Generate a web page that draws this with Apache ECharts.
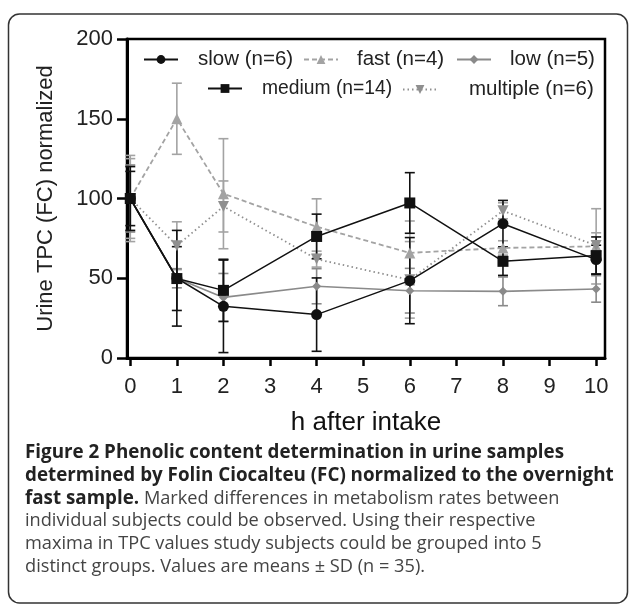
<!DOCTYPE html>
<html>
<head>
<meta charset="utf-8">
<script src="https://cdn.jsdelivr.net/npm/echarts@6/dist/echarts.min.js"></script>
<style>
  html, body { margin: 0; padding: 0; background: #fff; }
  #chart { width: 629px; height: 605px; }
</style>
</head>
<body>
<div id="chart"></div>
<script>
// hours after intake
var hours = [0, 1, 2, 4, 6, 8, 10];
var xTicks = [0, 1, 2, 3, 4, 5, 6, 7, 8, 9, 10];

// group means (TPC normalized to overnight fast sample)
var slow = [100, 50, 32.4, 27.2, 48.5, 84.2, 61.7];
var slowSd = [20, 30, 29, 23, 27, 14.6, 9];
var medium = [100, 49.8, 42.4, 76.2, 97.2, 60.6, 64.2];
var mediumSd = [17, 20, 19.5, 14, 19, 8.8, 11.7];
var fast = [100, 150, 103, 82.3, 65.9, 69, 70];
var fastSd = [27, 22.3, 34.5, 17.5, 20, 4.5, 23.6];
var low = [100, 50, 38, 45, 42.2, 41.8, 43.3];
var lowSd = [21, 6, 15, 11, 14, 9, 8.3];
var multiple = [100, 70.4, 95, 62, 49, 92.3, 70.5];
var multipleSd = [25, 15, 16, 5, 24, 5, 8];

var captionLines = [
    '{b|Figure 2 Phenolic content determination in urine samples}',
    '{b|determined by Folin Ciocalteu (FC) normalized to the overnight}',
    '{b|fast sample.}{n| Marked differences in metabolism rates between}',
    '{n|individual subjects could be observed. Using their respective}',
    '{n|maxima in TPC values study subjects could be grouped into 5}',
    '{n|distinct groups. Values are means \u00b1 SD (n = 35).}'
];

var myChart = echarts.init(document.getElementById('chart'));

function pts(ys){
    return hours.map(function(h, i){ return [h, ys[i]]; });
}
function ptsSd(ys, sds){
    return hours.map(function(h, i){ return [h, ys[i], sds[i]]; });
}

// error bars: vertical line + caps
function errSeries(name, ys, sds, color){
    return {
        name: name,
        type: 'custom',
        data: ptsSd(ys, sds),
        z: 3,
        silent: true,
        renderItem: function(params, api){
            var x = api.value(0), y = api.value(1), sd = api.value(2);
            var top = api.coord([x, y + sd]);
            var bot = api.coord([x, y - sd]);
            var w = 5;
            var st = { stroke: color, lineWidth: 1.6 };
            return {
                type: 'group',
                children: [
                    { type: 'line', shape: { x1: top[0], y1: top[1], x2: bot[0], y2: bot[1] }, style: st },
                    { type: 'line', shape: { x1: top[0] - w, y1: top[1], x2: top[0] + w, y2: top[1] }, style: st },
                    { type: 'line', shape: { x1: bot[0] - w, y1: bot[1], x2: bot[0] + w, y2: bot[1] }, style: st }
                ]
            };
        }
    };
}

function lineSeries(name, ys, color, symbol, size, type, width){
    return {
        name: name,
        type: 'line',
        data: pts(ys),
        z: 4,
        symbol: symbol,
        symbolSize: size,
        showAllSymbol: true,
        itemStyle: { color: color },
        lineStyle: { color: color, width: width, type: type }
    };
}

// one legend per entry so each sits where it does in the figure
function legendItem(name, left, top, gap, size){
    return {
        data: [name],
        left: left, top: top,
        padding: 0,
        itemWidth: 34, itemHeight: 11,
        textStyle: { fontSize: size || 20.5, color: '#222', padding: [0, 0, 0, gap] }
    };
}

var black = '#111';
var lightGray = '#a3a3a3';
var midGray = '#8a8a8a';

var captionGraphics = captionLines.map(function(t, i){
    return {
        type: 'text',
        x: 25,
        y: 453 + i * 22.7,
        style: {
            text: t,
            verticalAlign: 'middle',
            rich: {
                b: { fontFamily: 'Open Sans', fontWeight: 'bold', fontSize: 18.8, fill: '#222' },
                n: { fontFamily: 'Open Sans', fontSize: 18.2, fill: '#444' }
            }
        }
    };
});

var option = {
    animation: false,
    backgroundColor: '#fff',
    textStyle: { fontFamily: 'Liberation Sans' },
    grid: {
        left: 127, right: 24, top: 39, bottom: 247,
        show: true, borderColor: '#000', borderWidth: 2.5
    },
    xAxis: {
        type: 'value',
        min: -0.07, max: 10.19,
        name: 'h after intake',
        nameLocation: 'middle',
        nameGap: 52,
        nameTextStyle: { fontSize: 26, color: '#111' },
        axisLine: { onZero: false, lineStyle: { color: '#000', width: 3 } },
        axisTick: { show: true, length: 8, lineStyle: { width: 2.5, color: '#000' }, customValues: xTicks },
        axisLabel: { fontSize: 22, color: '#222', margin: 18, customValues: xTicks },
        splitLine: { show: false }
    },
    yAxis: {
        type: 'value',
        min: 0, max: 200, interval: 50,
        name: 'Urine TPC (FC) normalized',
        nameLocation: 'middle',
        nameGap: 70,
        nameTextStyle: { fontSize: 22, color: '#222' },
        axisLine: { show: true, onZero: false, lineStyle: { color: '#000', width: 3 } },
        axisTick: { show: true, length: 10, lineStyle: { width: 2.5, color: '#000' } },
        axisLabel: { fontSize: 22, color: '#222', margin: 14 },
        splitLine: { show: false }
    },
    legend: [
        legendItem('slow (n=6)', 143, 49, 15),
        legendItem('fast (n=4)', 303, 49, 14),
        legendItem('low (n=5)', 456, 49, 14),
        legendItem('medium (n=14)', 207, 79, 15, 19.3),
        legendItem('multiple (n=6)', 402, 79, 27)
    ],
    graphic: [{
        type: 'rect',
        shape: { x: 8.5, y: 14, width: 619, height: 589, r: 11 },
        style: { fill: 'none', stroke: '#333', lineWidth: 1.5 },
        z: -1
    }].concat(captionGraphics),
    series: [
        errSeries('fast-sd', fast, fastSd, lightGray),
        errSeries('multiple-sd', multiple, multipleSd, lightGray),
        errSeries('low-sd', low, lowSd, midGray),
        errSeries('slow-sd', slow, slowSd, black),
        errSeries('medium-sd', medium, mediumSd, black),
        lineSeries('fast (n=4)', fast, lightGray, 'triangle', 11, [5, 3], 1.8),
        lineSeries('multiple (n=6)', multiple, '#8f8f8f', 'path://M0,0L10,0L5,9Z', 11, [1.5, 3], 1.8),
        lineSeries('low (n=5)', low, midGray, 'diamond', 9, 'solid', 1.6),
        lineSeries('slow (n=6)', slow, black, 'circle', 11, 'solid', 1.5),
        lineSeries('medium (n=14)', medium, black, 'rect', 11, 'solid', 1.5)
    ]
};

myChart.setOption(option);
</script>
</body>
</html>
